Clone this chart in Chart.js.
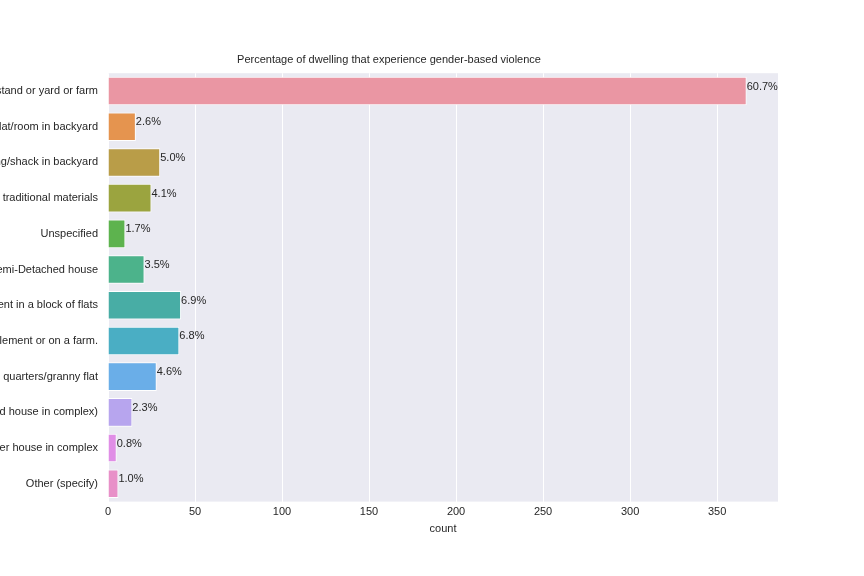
<!DOCTYPE html>
<html><head><meta charset="utf-8">
<script src="https://cdn.jsdelivr.net/npm/chart.js"></script>
<style>html,body{margin:0;padding:0;background:#fff}#w{width:864px;height:576px}</style>
</head><body><div id="w"><canvas id="c"></canvas></div>
<script>
const categories = [
 "House or brick/concrete block structure on a separate stand or yard or farm",
 "Flat/room in backyard",
 "Informal dwelling/shack in backyard",
 "Traditional dwelling/hut/structure made of traditional materials",
 "Unspecified",
 "Semi-Detached house",
 "Flat or apartment in a block of flats",
 "Informal dwelling/shack not in backyard e.g. in an informal/squatter settlement or on a farm.",
 "Room/flatlet on a property or larger dwelling/servants quarters/granny flat",
 "Town house (semi-detached house in complex)",
 "Cluster house in complex",
 "Other (specify)"
];
const counts = [367,16,30,25,10,21,42,41,28,14,5,6];
const pctLabels = ["60.7%","2.6%","5.0%","4.1%","1.7%","3.5%","6.9%","6.8%","4.6%","2.3%","0.8%","1.0%"];
const colors = ["#ea96a3","#e5944f","#b99d48","#9ba43f","#5db34e","#4cb38b","#48ada5","#4aaec4","#6aaee8","#b7a5ee","#e08ee6","#e890c8"];
const F = '"Liberation Sans", Arial, sans-serif';
const bg = {id:'bg',beforeDraw(ch){const a=ch.chartArea,x=ch.ctx;x.save();x.fillStyle='#eaeaf2';x.fillRect(a.left,a.top,a.right-a.left,a.bottom-a.top);x.restore();}};
const lbl = {id:'lbl',afterDatasetsDraw(ch){const x=ch.ctx;x.save();x.font='11px '+F;x.fillStyle='#262626';x.textBaseline='bottom';
 ch.getDatasetMeta(0).data.forEach((b,i)=>{x.fillText(pctLabels[i],b.x,b.y+1);});x.restore();}};
new Chart(document.getElementById('c'),{type:'bar',
 data:{labels:categories,datasets:[{data:counts,backgroundColor:colors,borderColor:'#fff',borderWidth:1,categoryPercentage:1,barPercentage:0.8}]},
 options:{indexAxis:'y',responsive:true,maintainAspectRatio:false,animation:false,
  layout:{padding:{top:53,right:86,bottom:36,left:0}},
  plugins:{legend:{display:false},tooltip:{enabled:false},
   title:{display:true,text:'Percentage of dwelling that experience gender-based violence',color:'#262626',font:{family:F,size:11,weight:'normal'},padding:{top:0,bottom:7}}},
  scales:{
   x:{min:0,max:385,afterBuildTicks(s){s.ticks=s.ticks.filter(t=>t.value%50===0);},
      ticks:{stepSize:50,color:'#262626',font:{family:F,size:11},padding:4},
      grid:{color:'#fff',lineWidth:1,drawTicks:false},border:{display:false},
      title:{display:true,text:'count',color:'#262626',font:{family:F,size:11},padding:{top:0}}},
   y:{ticks:{color:'#262626',font:{family:F,size:11},padding:10,autoSkip:false},grid:{display:false,drawTicks:false},border:{display:false},
      afterFit(s){s.width=108;}}
  }},
 plugins:[bg,lbl]});
</script></body></html>
